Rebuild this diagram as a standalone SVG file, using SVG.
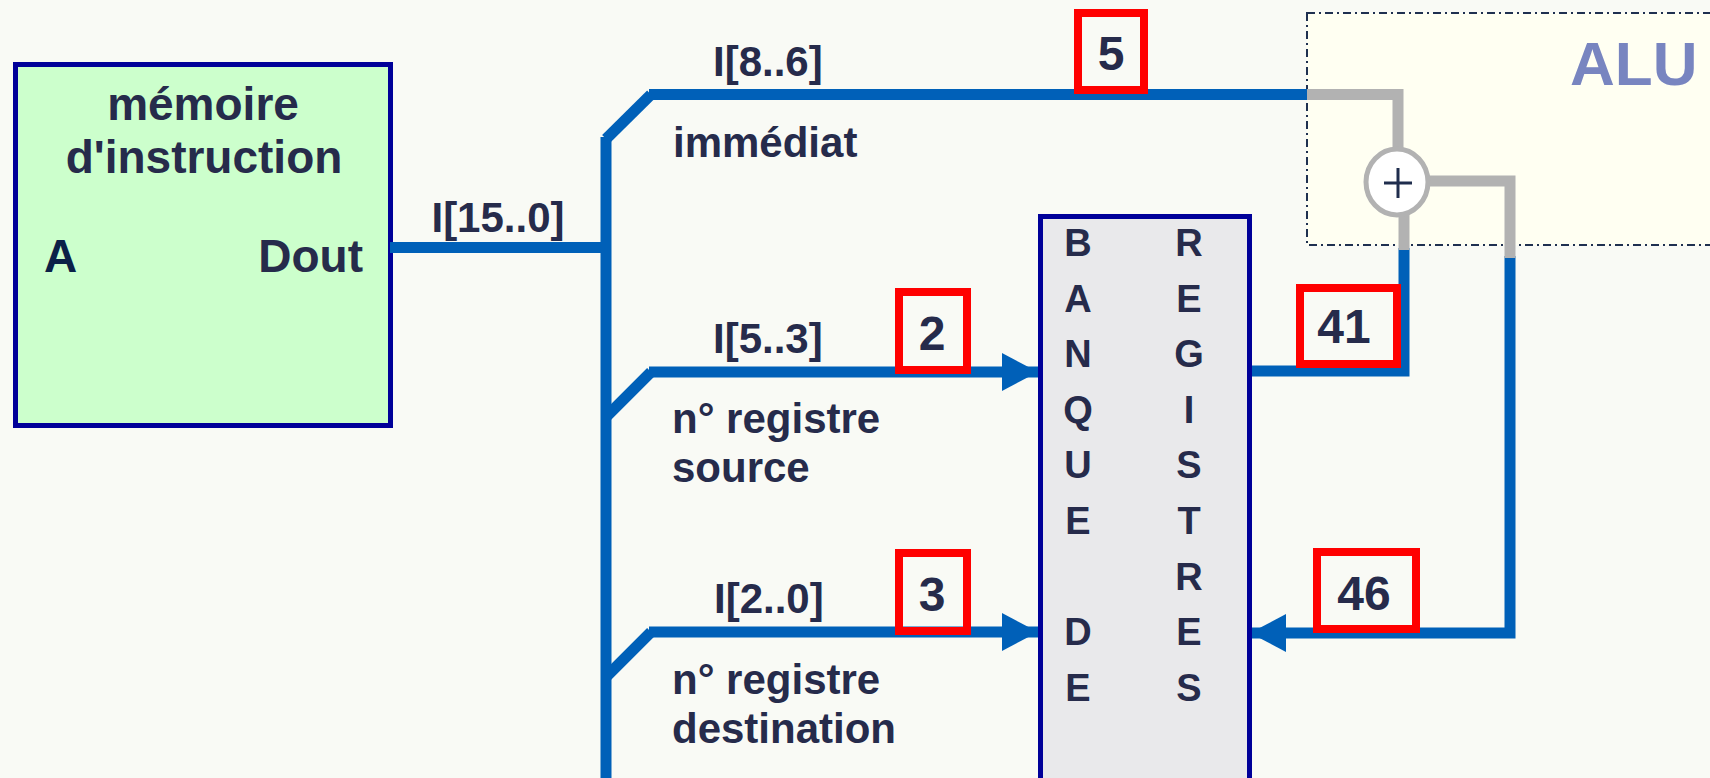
<svg xmlns="http://www.w3.org/2000/svg" width="1710" height="778" viewBox="0 0 1710 778">
<style>
.t{font-family:"Liberation Sans",Arial,sans-serif;font-weight:bold;fill:#262B4B}
.lbl{font-size:42px}
.num{font-size:48px;text-anchor:middle}
.reg{font-size:38px;text-anchor:middle}
.bus{stroke:#0060B8;stroke-width:11;fill:none;stroke-linecap:butt;stroke-linejoin:miter}
.gray{stroke:#B2B2B2;stroke-width:11;fill:none;stroke-linejoin:miter}
.red{fill:none;stroke:#FF0000;stroke-width:8}
</style>
<defs>
<marker id="arr" markerUnits="userSpaceOnUse" markerWidth="36" markerHeight="38" refX="36" refY="19" orient="auto">
<path d="M0,0 L36,19 L0,38 Z" fill="#0060B8"/>
</marker>
</defs>
<rect width="1710" height="778" fill="#F9FAF5"/>

<g id="alu">
<rect x="1307" y="13" width="420" height="232" fill="#FFFFF2" stroke="#1F3050" stroke-width="2" stroke-dasharray="8 4 2 4"/>
<text class="t" x="1570" y="85" style="font-size:62px;fill:#7885C0">ALU</text>
</g>

<g id="memoire">
<rect x="15.5" y="64.5" width="375" height="361" fill="#CCFFCC" stroke="#000099" stroke-width="5"/>
<text class="t" x="203" y="120" style="font-size:46px;text-anchor:middle">mémoire</text>
<text class="t" x="204" y="173" style="font-size:46px;text-anchor:middle">d'instruction</text>
<text class="t" x="44" y="272" style="font-size:46px;fill:#0B2147">A</text>
<text class="t" x="363" y="272" style="font-size:46px;text-anchor:end">Dout</text>
</g>

<g id="connectors">
<line class="bus" x1="390" y1="247.5" x2="611" y2="247.5"/>
<line class="bus" x1="606" y1="137" x2="606" y2="778"/>
<line class="bus" x1="606" y1="139" x2="651" y2="94.5"/>
<line class="bus" x1="649" y1="94.5" x2="1307" y2="94.5"/>
<line class="bus" x1="606" y1="417" x2="651" y2="372"/>
<line class="bus" x1="649" y1="372" x2="1038" y2="372" marker-end="url(#arr)"/>
<line class="bus" x1="606" y1="677" x2="651" y2="632"/>
<line class="bus" x1="649" y1="632" x2="1038" y2="632" marker-end="url(#arr)"/>
<polyline class="bus" points="1250,371 1404,371 1404,248"/>
<polyline class="bus" points="1510,256 1510,633 1250,633" marker-end="url(#arr)"/>
<polyline class="gray" points="1307,94.5 1398,94.5 1398,150"/>
<line class="gray" x1="1404" y1="214" x2="1404" y2="250"/>
<polyline class="gray" points="1428,181 1510,181 1510,258"/>
</g>

<g id="additionneur">
<ellipse cx="1397" cy="182" rx="31" ry="33" fill="#FFFFFF" stroke="#B2B2B2" stroke-width="5"/>
<path d="M1384,183 H1412 M1398,168 V198" stroke="#1F2D4D" stroke-width="3"/>
</g>

<g id="banque">
<rect x="1040.5" y="216.5" width="209" height="600" fill="#E9E9EB" stroke="#000099" stroke-width="5"/>
<text class="t reg" x="1078" y="256">B</text>
<text class="t reg" x="1078" y="311.6">A</text>
<text class="t reg" x="1078" y="367.2">N</text>
<text class="t reg" x="1078" y="422.8">Q</text>
<text class="t reg" x="1078" y="478.4">U</text>
<text class="t reg" x="1078" y="534">E</text>
<text class="t reg" x="1078" y="645.2">D</text>
<text class="t reg" x="1078" y="700.8">E</text>
<text class="t reg" x="1189" y="256">R</text>
<text class="t reg" x="1189" y="311.6">E</text>
<text class="t reg" x="1189" y="367.2">G</text>
<text class="t reg" x="1189" y="422.8">I</text>
<text class="t reg" x="1189" y="478.4">S</text>
<text class="t reg" x="1189" y="534">T</text>
<text class="t reg" x="1189" y="589.6">R</text>
<text class="t reg" x="1189" y="645.2">E</text>
<text class="t reg" x="1189" y="700.8">S</text>
</g>

<g id="labels">
<text class="t lbl" x="498" y="232" text-anchor="middle">I[15..0]</text>
<text class="t lbl" x="713" y="76">I[8..6]</text>
<text class="t lbl" x="673" y="157">immédiat</text>
<text class="t lbl" x="713" y="353">I[5..3]</text>
<text class="t lbl" x="672" y="433">n° registre</text>
<text class="t lbl" x="672" y="482">source</text>
<text class="t lbl" x="714" y="613">I[2..0]</text>
<text class="t lbl" x="672" y="694">n° registre</text>
<text class="t lbl" x="672" y="743">destination</text>
</g>

<g id="valeur5">
<rect class="red" x="1078" y="13" width="66" height="77"/>
<text class="t num" x="1111" y="70">5</text>
</g>
<g id="valeur2">
<rect class="red" x="899" y="292" width="68" height="78"/>
<text class="t num" x="932" y="350">2</text>
</g>
<g id="valeur3">
<rect class="red" x="899" y="553" width="68" height="78"/>
<text class="t num" x="932" y="611">3</text>
</g>
<g id="valeur41">
<rect class="red" x="1300" y="288" width="97" height="76"/>
<text class="t num" x="1344" y="343">41</text>
</g>
<g id="valeur46">
<rect class="red" x="1317" y="552" width="99" height="77"/>
<text class="t num" x="1364" y="610">46</text>
</g>
</svg>
